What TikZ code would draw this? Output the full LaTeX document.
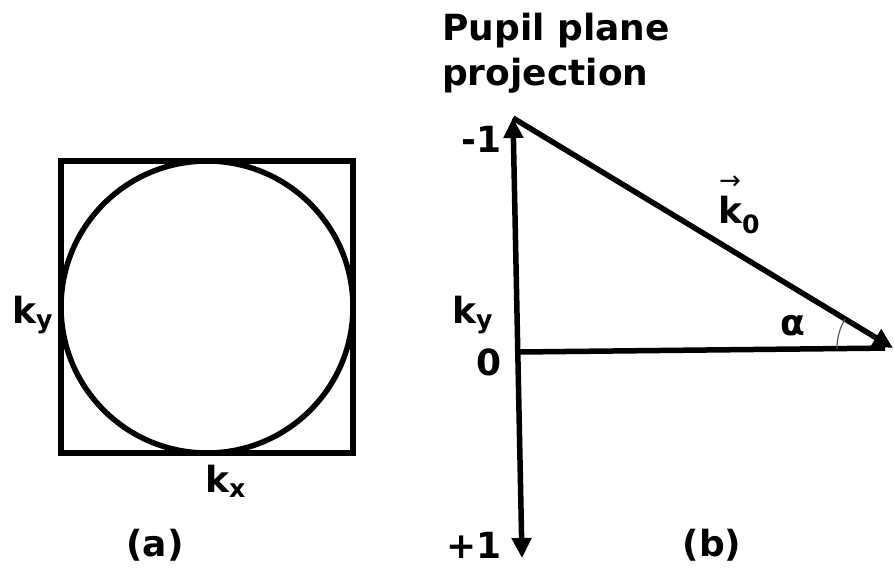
\documentclass[tikz,border=0pt]{standalone}
\usepackage{fontspec}
\setmainfont{DejaVu Sans}
\usetikzlibrary{arrows.meta,calc}

\begin{document}
\begin{tikzpicture}[x=1pt,y=-1pt,
  heavy/.style={line width=5.5pt},
  lbl/.style={inner sep=0pt,font=\fontsize{36}{45}\selectfont\bfseries},
  bigtip/.style={-{Triangle[length=20pt,width=19pt]}},
  anglearc/.style={draw=gray!70!black,line width=1.2pt}]
  \useasboundingbox (0,0) rectangle (894,576);

  % (a) pupil in k-space
  \draw[heavy] (61,161) rectangle (353,453);
  \draw[heavy] (207,307) circle[radius=146];
  \node[lbl,anchor=base west] (kya) at (12,323) {k\textsubscript{y}};
  \node[lbl,anchor=base west] (kxa) at (205,492) {k\textsubscript{x}};
  \node[lbl] (capa) at (155,545) {(a)};

  % (b) projection
  \coordinate (top) at (513,118);
  \coordinate (bottom) at (522,558);
  \coordinate (origin) at (519,352);
  \coordinate (tip) at (893,348);
  \draw[heavy,{Triangle[length=20pt,width=19pt]}-{Triangle[length=20pt,width=19pt]}] (top) -- (bottom);
  \draw[heavy,bigtip] (top) -- (tip);
  \draw[heavy,shorten >=8pt] (origin) -- (tip);
  \draw[anglearc] ($(tip)+(179.4:56)$) arc[start angle=179.4,end angle=211.2,radius=56];

  \node[lbl,anchor=north west,align=left] (title) at (442,13) {Pupil plane\\projection};
  \node[lbl,anchor=base east] (mone) at (502,152) {-1};
  \node[lbl,anchor=base west] (kyb) at (452,323) {k\textsubscript{y}};
  \node[lbl,anchor=base east] (zero) at (502,375) {0};
  \node[lbl,anchor=base east] (pone) at (502,558) {+1};
  \node[lbl,anchor=base west] (kzero) at (718,223)
    {\makebox[0pt][l]{\hspace{1pt}\raisebox{34pt}{\fontsize{26}{26}\mdseries\selectfont →}}k\textsubscript{0}};
  \node[lbl,anchor=base west] (alpha) at (780,335) {α};
  \node[lbl] (capb) at (712,545) {(b)};
\end{tikzpicture}
\end{document}
